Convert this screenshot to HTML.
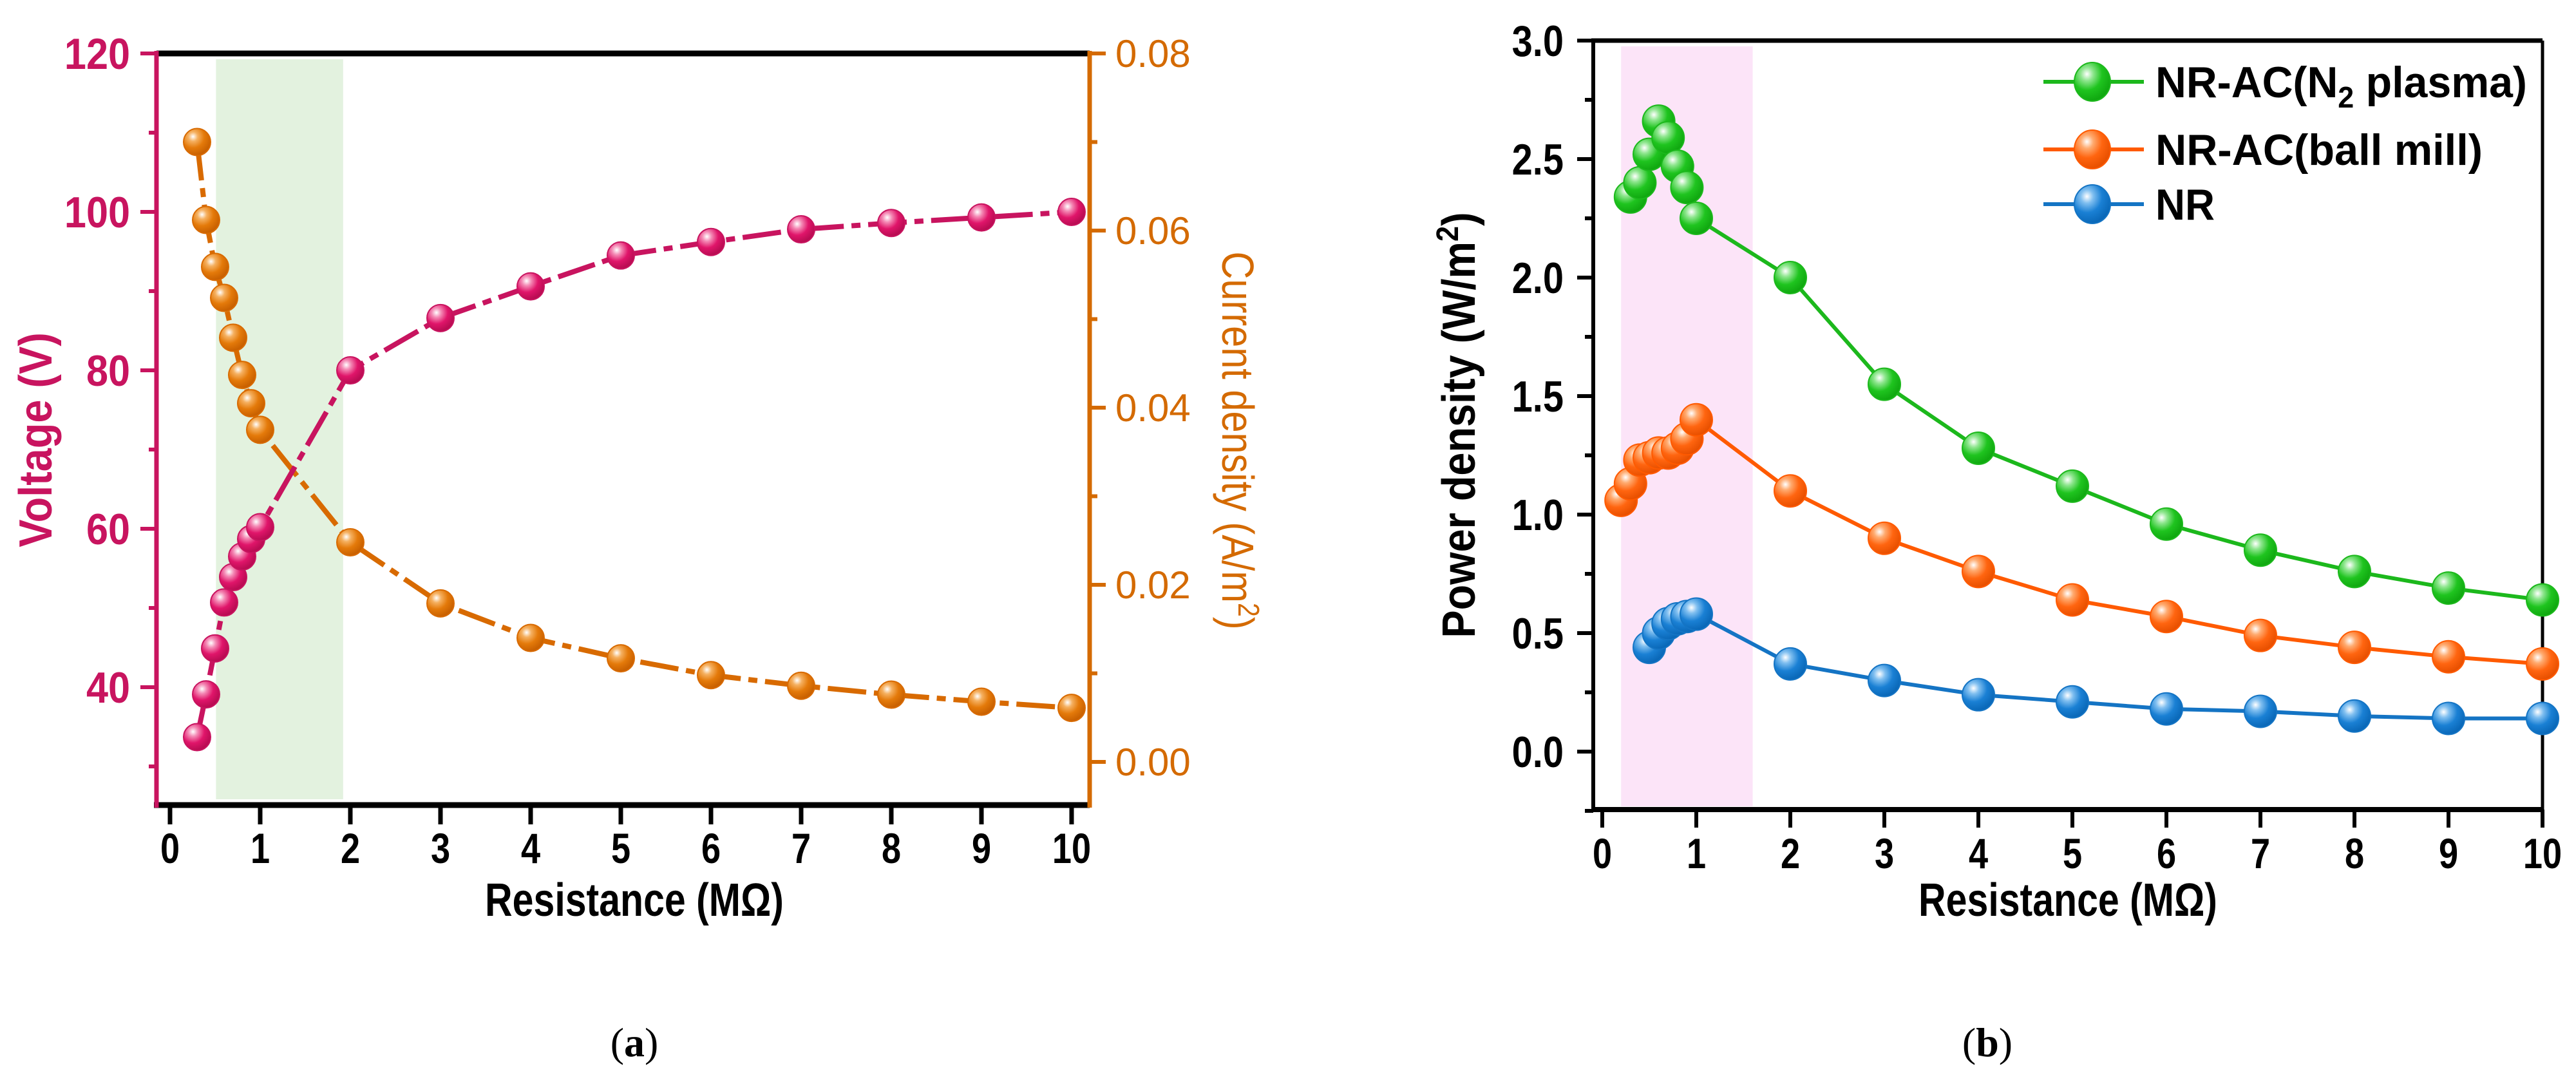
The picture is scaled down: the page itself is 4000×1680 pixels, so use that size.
<!DOCTYPE html>
<html><head><meta charset="utf-8"><style>
html,body{margin:0;padding:0;background:#fff;}
svg{display:block;font-family:"Liberation Sans",Arial,sans-serif;}
</style></head><body>
<svg id="fig" width="4000" height="1680" viewBox="0 0 4000 1680" xmlns="http://www.w3.org/2000/svg">
<defs>
<radialGradient id="gPink" cx="0.35" cy="0.3" r="0.7"><stop offset="0" stop-color="#fff"/><stop offset="0.25" stop-color="#f48ab5"/><stop offset="0.6" stop-color="#e0156a"/><stop offset="1" stop-color="#b80c52"/></radialGradient>
<radialGradient id="gOrA" cx="0.35" cy="0.3" r="0.7"><stop offset="0" stop-color="#fff"/><stop offset="0.25" stop-color="#f5b060"/><stop offset="0.6" stop-color="#e47a0a"/><stop offset="1" stop-color="#c86000"/></radialGradient>
<radialGradient id="gGreen" cx="0.35" cy="0.3" r="0.7"><stop offset="0" stop-color="#fff"/><stop offset="0.25" stop-color="#8ee68e"/><stop offset="0.6" stop-color="#1fc41f"/><stop offset="1" stop-color="#10a810"/></radialGradient>
<radialGradient id="gOrB" cx="0.35" cy="0.3" r="0.7"><stop offset="0" stop-color="#fff"/><stop offset="0.25" stop-color="#ffab70"/><stop offset="0.6" stop-color="#ff6510"/><stop offset="1" stop-color="#e85000"/></radialGradient>
<radialGradient id="gBlue" cx="0.35" cy="0.3" r="0.7"><stop offset="0" stop-color="#fff"/><stop offset="0.25" stop-color="#80bff0"/><stop offset="0.6" stop-color="#1a80d4"/><stop offset="1" stop-color="#0a68b8"/></radialGradient>
</defs>
</svg>
<script>
// ---- Panel (a) data ----
const aR = [0.3,0.4,0.5,0.6,0.7,0.8,0.9,1,2,3,4,5,6,7,8,9,10];
const aVoltage = [33.7,39.1,44.9,50.7,53.9,56.5,58.7,60.2,80,86.6,90.6,94.5,96.2,97.8,98.6,99.3,100];
const aCurrent = [0.0700,0.0612,0.0559,0.0524,0.0479,0.0437,0.0405,0.0375,0.0248,0.0179,0.0140,0.0117,0.0098,0.0086,0.0076,0.0068,0.0061];
const aXTicks = [0,1,2,3,4,5,6,7,8,9,10];
const aVTicks = [40,60,80,100,120];
const aCTicks = ["0.00","0.02","0.04","0.06","0.08"];
// ---- Panel (b) data ----
const bRGreen = [0.3,0.4,0.5,0.6,0.7,0.8,0.9,1,2,3,4,5,6,7,8,9,10];
const bGreen = [2.34,2.40,2.52,2.66,2.59,2.47,2.38,2.25,2.00,1.55,1.28,1.12,0.96,0.85,0.76,0.69,0.64];
const bROrange = [0.2,0.3,0.4,0.5,0.6,0.7,0.8,0.9,1,2,3,4,5,6,7,8,9,10];
const bOrange = [1.06,1.13,1.23,1.24,1.26,1.26,1.28,1.32,1.40,1.10,0.90,0.76,0.64,0.57,0.49,0.44,0.40,0.37];
const bRBlue = [0.5,0.6,0.7,0.8,0.9,1,2,3,4,5,6,7,8,9,10];
const bBlue = [0.44,0.50,0.54,0.56,0.57,0.58,0.37,0.30,0.24,0.21,0.18,0.17,0.15,0.14,0.14];
const bYTicks = ["0.0","0.5","1.0","1.5","2.0","2.5","3.0"];
const bLegend = ["NR-AC(N2 plasma)","NR-AC(ball mill)","NR"];

const NS="http://www.w3.org/2000/svg";
const svg=document.getElementById('fig');
function el(tag,attrs,parent){const e=document.createElementNS(NS,tag);for(const k in attrs)e.setAttribute(k,attrs[k]);(parent||svg).appendChild(e);return e;}
function txt(s,x,y,opts,parent){const t=el('text',{x:0,y:0,'text-anchor':opts.anchor||'middle','font-size':opts.size,'font-weight':opts.weight||'bold',fill:opts.fill||'#000',transform:`translate(${x},${y}) ${opts.rot?'rotate('+opts.rot+')':''} scale(${opts.sx||0.82},1)`,'font-family':opts.family||'"Liberation Sans",Arial,sans-serif'},parent);t.textContent=s;return t;}
function panelLabel(letter,x,y,parent){
 const t=el('text',{x:x,y:y,'text-anchor':'middle','font-size':64,'font-family':'"Liberation Serif",serif',fill:'#000'},parent);
 const a=el('tspan',{},t);a.textContent='(';
 const b=el('tspan',{'font-weight':'bold'},t);b.textContent=letter;
 const c=el('tspan',{},t);c.textContent=')';
 return t;
}

// ===== Panel (a) =====
const PA={l:243,r:1692,t:83,b:1250};
const ax=v=>264+v*140;
const ayV=v=>83+(120-v)*12.3;
const ayC=v=>1183-v*13750;
const PINK='#c8145f', ORA='#d46a00';
const ga=el('g',{});

const bandA=el('rect',{x:ax(0.51),y:92,width:ax(1.92)-ax(0.51),height:1241-92,fill:'#e3f2df'},ga);

el('line',{x1:PA.l,y1:PA.t,x2:PA.r,y2:PA.t,stroke:'#000','stroke-width':9},ga);
el('line',{x1:PA.l-4,y1:PA.b,x2:PA.r,y2:PA.b,stroke:'#000','stroke-width':9},ga);
const lax=el('line',{x1:PA.l,y1:PA.t-4,x2:PA.l,y2:PA.b+4,stroke:PINK,'stroke-width':7},ga);

const rax=el('line',{x1:PA.r,y1:PA.t-4,x2:PA.r,y2:PA.b+4,stroke:ORA,'stroke-width':7},ga);

aXTicks.forEach(v=>{el('line',{x1:ax(v),y1:PA.b,x2:ax(v),y2:PA.b+30,stroke:'#000','stroke-width':7},ga);
 const t=txt(String(v),ax(v),1340,{size:66},ga);});
for(let v=30;v<=120;v+=10){const major=v%20===0;el('line',{x1:PA.l,y1:ayV(v),x2:PA.l-(major?25:12),y2:ayV(v),stroke:PINK,'stroke-width':6},ga);}
aVTicks.forEach(v=>{const t=txt(String(v),202,ayV(v)+24,{size:68,anchor:'end',fill:PINK,sx:0.9},ga);});
for(let i=0;i<=8;i++){const v=i*0.01;const major=i%2===0;el('line',{x1:PA.r,y1:ayC(v),x2:PA.r+(major?25:12),y2:ayC(v),stroke:ORA,'stroke-width':6},ga);}
aCTicks.forEach(s=>{const t=txt(s,1732,ayC(parseFloat(s))+21,{size:60,anchor:'start',fill:ORA,weight:'normal',sx:1.0},ga);});
let t1=txt('Voltage (V)',80,683,{size:72,fill:PINK,rot:-90,sx:0.9},ga);
let t2=txt('',1898,684,{size:70,fill:ORA,rot:90,weight:'normal',sx:0.85},ga);
t2.textContent='Current density (A/m';const sup=el('tspan',{dy:-25,'font-size':46},t2);sup.textContent='2';const cl=el('tspan',{dy:25},t2);cl.textContent=')';

let t3=txt('Resistance (MΩ)',985,1422,{size:72,sx:0.82},ga);
let t4=panelLabel('a',985,1640,ga);
function series(xs,ys,fx,fy,color,grad,r,dash,w,name,parent){
 const g=el('g',{},parent);
 const pts=xs.map((x,i)=>fx(x)+','+fy(ys[i])).join(' ');
 const pl=el('polyline',{points:pts,fill:'none',stroke:color,'stroke-width':w,'stroke-linejoin':'round'},g);
 if(dash)pl.setAttribute('stroke-dasharray',dash);
 
 xs.forEach((x,i)=>{const c=el('circle',{cx:fx(x),cy:fy(ys[i]),r:r,fill:`url(#${grad})`,stroke:color,'stroke-width':2},g);
  });
}
series(aR,aCurrent,ax,ayC,'#d86a00','gOrA',21,'60 12 14 12',8,'current-series',ga);
series(aR,aVoltage,ax,ayV,'#c8145f','gPink',21,'60 12 14 12',8,'voltage-series',ga);

// ===== Panel (b) =====
const PB={l:2474,r:3948,t:63,b:1257};
const bx=v=>2488+v*146;
const by=v=>1167-v*368;
const gb=el('g',{});
const bandB=el('rect',{x:bx(0.2),y:72,width:bx(1.6)-bx(0.2),height:1252-72,fill:'#fce4f8'},gb);

el('line',{x1:PB.l-3,y1:PB.t,x2:PB.r,y2:PB.t,stroke:'#000','stroke-width':7},gb);
el('line',{x1:PB.l-3,y1:PB.b,x2:PB.r,y2:PB.b,stroke:'#000','stroke-width':8},gb);
el('line',{x1:PB.l,y1:PB.t,x2:PB.l,y2:PB.b,stroke:'#000','stroke-width':6},gb);
el('line',{x1:PB.r,y1:PB.t,x2:PB.r,y2:PB.b,stroke:'#000','stroke-width':5},gb);
aXTicks.forEach(v=>{el('line',{x1:bx(v),y1:PB.b,x2:bx(v),y2:PB.b+28,stroke:'#000','stroke-width':6},gb);
 const t=txt(String(v),bx(v),1348,{size:66},gb);});
for(let i=-1;i<=12;i++){const v=i*0.25;const major=i%2===0;el('line',{x1:PB.l,y1:by(v),x2:PB.l-(major?25:13),y2:by(v),stroke:'#000','stroke-width':6},gb);}
bYTicks.forEach(s=>{const t=txt(s,2428,by(parseFloat(s))+24,{size:68,anchor:'end',sx:0.85},gb);});
let t5=txt('',2290,660,{size:72,rot:-90,sx:0.9},gb);
t5.textContent='Power density (W/m';const s5=el('tspan',{dy:-26,'font-size':48},t5);s5.textContent='2';const c5=el('tspan',{dy:26},t5);c5.textContent=')';

let t6=txt('Resistance (MΩ)',3211,1422,{size:72,sx:0.82},gb);
let t7=panelLabel('b',3086,1640,gb);
series(bRBlue,bBlue,bx,by,'#1474c4','gBlue',25,null,6,'nr-series',gb);
series(bROrange,bOrange,bx,by,'#ff5a00','gOrB',25,null,6,'ball-mill-series',gb);
series(bRGreen,bGreen,bx,by,'#1cb81c','gGreen',25,null,6,'n2-plasma-series',gb);
// legend
const lg=el('g',{},gb);
const lcol=[['#1cb81c','gGreen'],['#ff5a00','gOrB'],['#1474c4','gBlue']];
const ly=[127,232,317];
bLegend.forEach((s,i)=>{
 const e=el('g',{},lg);
 el('line',{x1:3173,y1:ly[i],x2:3329,y2:ly[i],stroke:lcol[i][0],'stroke-width':6},e);
 el('ellipse',{cx:3249,cy:ly[i],rx:28,ry:30,fill:`url(#${lcol[i][1]})`,stroke:lcol[i][0],'stroke-width':2},e);
 const t=el('text',{x:3347,y:ly[i]+24,'font-size':68,'font-weight':'bold',fill:'#000'},e);
 if(i===0){t.textContent='NR-AC(N';const sb=el('tspan',{dy:16,'font-size':46},t);sb.textContent='2';const r=el('tspan',{dy:-16},t);r.textContent=' plasma)';t.setAttribute('textLength',577);}
 else if(i===1){t.textContent=s;t.setAttribute('textLength',508);}
 else {t.textContent=s;t.setAttribute('textLength',92);}
 t.setAttribute('lengthAdjust','spacingAndGlyphs');
 
 
});
</script>
</body></html>
